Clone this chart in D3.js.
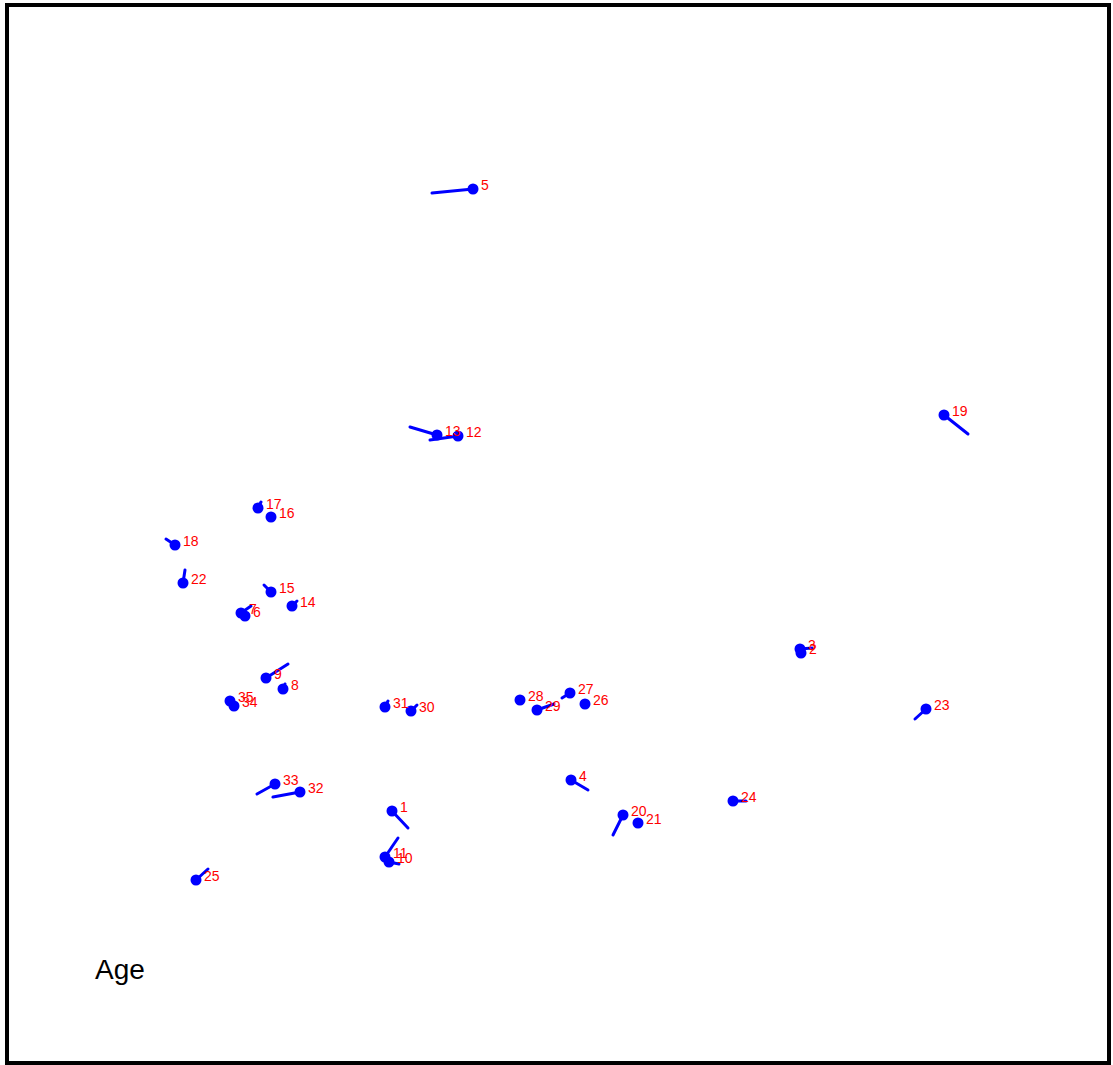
<!DOCTYPE html>
<html>
<head>
<meta charset="utf-8">
<script src="https://cdn.jsdelivr.net/npm/d3@7"></script>
<style>
  html, body { margin: 0; padding: 0; background: #fff; }
  svg { display: block; }
</style>
</head>
<body>
<svg id="chart" width="1113" height="1065"></svg>
<script>
// Case numbers and their positions on the two map dimensions
const ids = [1, 2, 3, 4, 5, 6, 7, 8, 9, 10, 11, 12, 13, 14, 15, 16, 17, 18, 19, 20,
             21, 22, 23, 24, 25, 26, 27, 28, 29, 30, 31, 32, 33, 34, 35];
const xs  = [-1.68, 2.41, 2.40, 0.11, -0.87, -3.15, -3.19, -2.77, -2.94, -1.71,
             -1.75, -1.02, -1.23, -2.68, -2.89, -2.89, -3.02, -3.85, 3.84, 0.63,
             0.78, -3.77, 3.66, 1.73, -3.64, 0.25, 0.10, -0.40, -0.23, -1.49,
             -1.75, -2.60, -2.85, -3.26, -3.30];
const ys  = [-2.81, -1.23, -1.19, -2.50, 3.41, -0.86, -0.83, -1.59, -1.48, -3.32,
             -3.27, 0.94, 0.95, -0.76, -0.62, 0.13, 0.22, -0.15, 1.15, -2.85,
             -2.93, -0.53, -1.79, -2.71, -3.50, -1.74, -1.63, -1.70, -1.80, -1.81,
             -1.77, -2.62, -2.54, -1.76, -1.71];
// Where each case's Age vector ends
const ageX = [-1.52, 2.41, 2.52, 0.28, -1.28, -3.15, -3.09, -2.75, -2.72, -1.61,
              -1.62, -1.30, -1.50, -2.63, -2.96, -2.89, -2.99, -3.94, 4.08, 0.53,
              0.78, -3.75, 3.55, 1.86, -3.52, 0.25, 0.02, -0.40, -0.06, -1.43,
              -1.72, -2.87, -3.03, -3.26, -3.30];
const ageY = [-2.98, -1.23, -1.18, -2.60, 3.37, -0.86, -0.76, -1.54, -1.34, -3.34,
              -3.08, 0.90, 1.03, -0.71, -0.55, 0.13, 0.28, -0.09, 0.96, -3.05,
              -2.93, -0.40, -1.89, -2.71, -3.39, -1.74, -1.68, -1.70, -1.74, -1.75,
              -1.71, -2.67, -2.64, -1.76, -1.71];
const variableName = "Age";

const svg = d3.select("#chart");

const x = d3.scaleLinear().domain([-5, 5]).range([60, 1060]);
const y = d3.scaleLinear().domain([-5, 5]).range([1030, 30]);

// frame
svg.append("rect")
  .attr("x", 7).attr("y", 5)
  .attr("width", 1102).attr("height", 1058)
  .attr("fill", "#fff")
  .attr("stroke", "#000")
  .attr("stroke-width", 4);

const rows = ids.map((id, i) => ({ id, x: xs[i], y: ys[i], ex: ageX[i], ey: ageY[i] }));

// vectors
svg.append("g").selectAll("line")
  .data(rows.filter(d => d.x !== d.ex || d.y !== d.ey))
  .join("line")
  .attr("x1", d => x(d.x)).attr("y1", d => y(d.y))
  .attr("x2", d => x(d.ex)).attr("y2", d => y(d.ey))
  .attr("stroke", "#0000ff")
  .attr("stroke-width", 3)
  .attr("stroke-linecap", "round");

// points
svg.append("g").selectAll("circle")
  .data(rows)
  .join("circle")
  .attr("cx", d => x(d.x)).attr("cy", d => y(d.y))
  .attr("r", 5.5)
  .attr("fill", "#0000ff");

// case labels
svg.append("g").selectAll("text")
  .data(rows)
  .join("text")
  .attr("x", d => x(d.x) + 8)
  .attr("y", d => y(d.y) + 1)
  .attr("fill", "#ff0000")
  .attr("font-family", "Liberation Sans, Arial, sans-serif")
  .attr("font-size", 14)
  .text(d => d.id);

// variable caption
svg.append("text")
  .attr("x", 95).attr("y", 979)
  .attr("font-family", "Liberation Sans, Arial, sans-serif")
  .attr("font-size", 28)
  .attr("fill", "#000")
  .text(variableName);
</script>
</body>
</html>
